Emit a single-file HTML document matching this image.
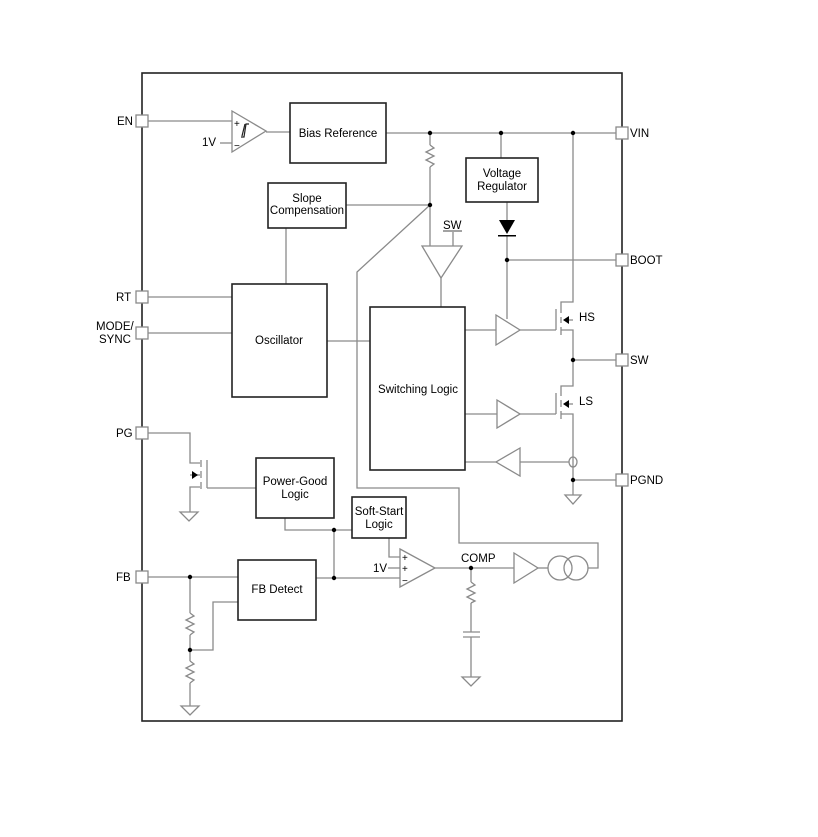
<!DOCTYPE html>
<html><head><meta charset="utf-8"><style>
html,body{margin:0;padding:0;background:#fff;}
svg{display:block;}
text{font-family:"Liberation Sans",Arial,sans-serif;font-size:11.5px;fill:#000;}
</style></head><body>
<svg width="818" height="837" viewBox="0 0 818 837" xmlns="http://www.w3.org/2000/svg">
<g fill="none" stroke="#8a8a8a" stroke-width="1.3">
<line x1="148" y1="121" x2="232" y2="121"/>
<line x1="220" y1="143" x2="232" y2="143"/>
<line x1="266" y1="132" x2="290" y2="132"/>
<line x1="386" y1="133" x2="616" y2="133"/>
<line x1="430" y1="133" x2="430" y2="145"/>
<polyline points="430,145 434,148 426,152 434,156 426,160 434,164 430,167"/>
<line x1="430" y1="167" x2="430" y2="246"/>
<line x1="346" y1="205" x2="430" y2="205"/>
<line x1="286" y1="228" x2="286" y2="284"/>
<polyline points="430,205 357,272 357,488 459,488 459,543 598,543 598,568 588,568"/>
<line x1="453" y1="232" x2="453" y2="246"/>
<line x1="441" y1="278" x2="441" y2="307"/>
<line x1="148" y1="297" x2="232" y2="297"/>
<line x1="148" y1="333" x2="232" y2="333"/>
<line x1="327" y1="341" x2="370" y2="341"/>
<line x1="501" y1="133" x2="501" y2="158"/>
<line x1="507" y1="202" x2="507" y2="220"/>
<line x1="507" y1="236" x2="507" y2="319"/>
<line x1="507" y1="260" x2="616" y2="260"/>
<line x1="465" y1="330" x2="496" y2="330"/>
<line x1="520" y1="330" x2="556" y2="330"/>
<polyline points="573,133 573,302 561,302 561,313"/>
<line x1="556" y1="309" x2="556" y2="330"/>
<line x1="561" y1="317" x2="561" y2="323"/>
<line x1="561" y1="327" x2="561" y2="335"/>
<line x1="566" y1="320" x2="573" y2="320"/>
<polyline points="561,330 573,330 573,386 561,386 561,396"/>
<line x1="573" y1="360" x2="616" y2="360"/>
<line x1="465" y1="414" x2="497" y2="414"/>
<line x1="520" y1="414" x2="556" y2="414"/>
<line x1="556" y1="393" x2="556" y2="414"/>
<line x1="561" y1="400" x2="561" y2="407"/>
<line x1="561" y1="411" x2="561" y2="419"/>
<line x1="566" y1="404" x2="573" y2="404"/>
<polyline points="561,414 573,414 573,495"/>
<ellipse cx="573" cy="462" rx="4" ry="5"/>
<line x1="520" y1="462" x2="569" y2="462"/>
<line x1="465" y1="462" x2="496" y2="462"/>
<line x1="573" y1="480" x2="616" y2="480"/>
<polygon points="565,495 581,495 573,504"/>
<polyline points="148,433 190,433 190,463 200,463"/>
<line x1="201" y1="460" x2="201" y2="467"/>
<line x1="201" y1="471" x2="201" y2="478"/>
<line x1="201" y1="482" x2="201" y2="489"/>
<polyline points="200,487 190,487 190,512"/>
<line x1="190" y1="475" x2="200" y2="475"/>
<line x1="207" y1="460" x2="207" y2="488"/>
<line x1="207" y1="488" x2="256" y2="488"/>
<polygon points="180,512 198,512 189,521"/>
<polyline points="285,518 285,530 352,530"/>
<line x1="334" y1="530" x2="334" y2="578"/>
<line x1="316" y1="578" x2="400" y2="578"/>
<polyline points="389,538 389,557 400,557"/>
<line x1="388" y1="568" x2="400" y2="568"/>
<line x1="435" y1="568" x2="514" y2="568"/>
<line x1="538" y1="568" x2="548" y2="568"/>
<circle cx="560" cy="568" r="12"/>
<circle cx="576" cy="568" r="12"/>
<line x1="471" y1="568" x2="471" y2="582"/>
<polyline points="471,582 475,585 467,589 475,593 467,597 475,601 471,603"/>
<line x1="471" y1="603" x2="471" y2="632"/>
<line x1="463" y1="632" x2="480" y2="632"/>
<line x1="463" y1="637" x2="480" y2="637"/>
<line x1="471" y1="637" x2="471" y2="677"/>
<polygon points="462,677 480,677 471,686"/>
<line x1="148" y1="577" x2="238" y2="577"/>
<line x1="190" y1="577" x2="190" y2="613"/>
<polyline points="190,613 194,616 186,620 194,624 186,628 194,632 190,635"/>
<line x1="190" y1="635" x2="190" y2="661"/>
<polyline points="190,661 194,664 186,668 194,672 186,676 194,680 190,683"/>
<line x1="190" y1="683" x2="190" y2="706"/>
<polygon points="181,706 199,706 190,715"/>
<polyline points="238,602 213,602 213,650 190,650"/>
<polygon points="232,111 266,131 232,152"/>
<polygon points="422,246 462,246 441,278"/>
<polygon points="496,315 520,330 496,345"/>
<polygon points="497,400 520,414 497,428"/>
<polygon points="520,448 496,462 520,476"/>
<polygon points="400,549 435,568 400,587"/>
<polygon points="514,553 538,568 514,583"/>
</g>
<polyline points="241,137 244,137 246,124 249,124" fill="none" stroke="#222" stroke-width="1.2"/>
<line x1="242" y1="136" x2="245" y2="124" stroke="#222" stroke-width="1.2"/>
<g fill="none" stroke="#222" stroke-width="1.6">
<rect x="142" y="73" width="480" height="648"/>
<rect x="290" y="103" width="96" height="60"/>
<rect x="268" y="183" width="78" height="45"/>
<rect x="466" y="158" width="72" height="44"/>
<rect x="232" y="284" width="95" height="113"/>
<rect x="370" y="307" width="95" height="163"/>
<rect x="256" y="458" width="78" height="60"/>
<rect x="352" y="497" width="54" height="41"/>
<rect x="238" y="560" width="78" height="60"/>
</g>
<g fill="#fff" stroke="#8a8a8a" stroke-width="1.3">
<rect x="136" y="115" width="12" height="12"/>
<rect x="136" y="291" width="12" height="12"/>
<rect x="136" y="327" width="12" height="12"/>
<rect x="136" y="427" width="12" height="12"/>
<rect x="136" y="571" width="12" height="12"/>
<rect x="616" y="127" width="12" height="12"/>
<rect x="616" y="254" width="12" height="12"/>
<rect x="616" y="354" width="12" height="12"/>
<rect x="616" y="474" width="12" height="12"/>
</g>
<g fill="#000" stroke="none">
<circle cx="430" cy="133" r="2.2"/><circle cx="501" cy="133" r="2.2"/><circle cx="573" cy="133" r="2.2"/>
<circle cx="430" cy="205" r="2.2"/><circle cx="507" cy="260" r="2.2"/><circle cx="573" cy="360" r="2.2"/>
<circle cx="573" cy="480" r="2.2"/><circle cx="334" cy="530" r="2.2"/><circle cx="334" cy="578" r="2.2"/>
<circle cx="471" cy="568" r="2.2"/><circle cx="190" cy="577" r="2.2"/><circle cx="190" cy="650" r="2.2"/>
<polygon points="499,220 515,220 507,234"/>
<rect x="498" y="235" width="18" height="1.5"/>
<polygon points="563,320 569,316 569,324"/>
<polygon points="563,404 569,400 569,408"/>
<polygon points="198,475 192,471 192,479"/>
</g>
<text x="117" y="125">EN</text>
<text x="202" y="146">1V</text>
<text x="234" y="127" style="font-size:10px">+</text>
<text x="234" y="149" style="font-size:10px">−</text>
<text x="338" y="137" text-anchor="middle">Bias Reference</text>
<text x="307" y="202" text-anchor="middle">Slope</text>
<text x="307" y="214" text-anchor="middle">Compensation</text>
<text x="502" y="177" text-anchor="middle">Voltage</text>
<text x="502" y="190" text-anchor="middle">Regulator</text>
<text x="443" y="229">SW</text>
<line x1="443" y1="231" x2="462" y2="231" stroke="#444" stroke-width="1"/>
<text x="116" y="301">RT</text>
<text x="96" y="330">MODE/</text>
<text x="99" y="343">SYNC</text>
<text x="279" y="344" text-anchor="middle">Oscillator</text>
<text x="418" y="393" text-anchor="middle">Switching Logic</text>
<text x="579" y="321">HS</text>
<text x="579" y="405">LS</text>
<text x="630" y="137">VIN</text>
<text x="630" y="264">BOOT</text>
<text x="630" y="364">SW</text>
<text x="630" y="484">PGND</text>
<text x="116" y="437">PG</text>
<text x="295" y="485" text-anchor="middle">Power-Good</text>
<text x="295" y="498" text-anchor="middle">Logic</text>
<text x="379" y="515" text-anchor="middle">Soft-Start</text>
<text x="379" y="528" text-anchor="middle">Logic</text>
<text x="116" y="581">FB</text>
<text x="277" y="593" text-anchor="middle">FB Detect</text>
<text x="373" y="572">1V</text>
<text x="402" y="561" style="font-size:10px">+</text>
<text x="402" y="572" style="font-size:10px">+</text>
<text x="402" y="584" style="font-size:10px">−</text>
<text x="461" y="562">COMP</text>
</svg>
</body></html>
